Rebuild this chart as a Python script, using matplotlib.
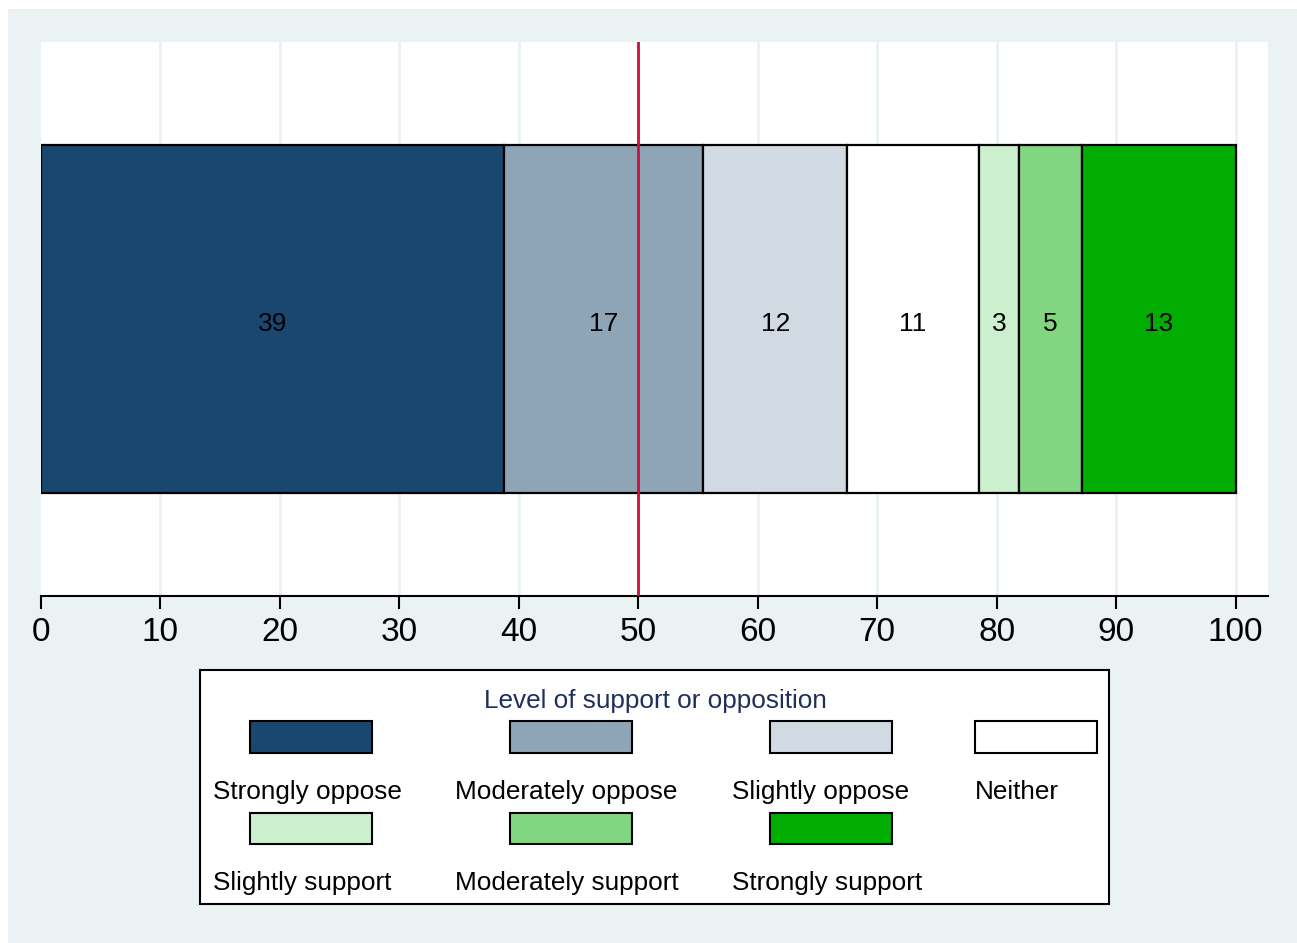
import matplotlib.pyplot as plt
from matplotlib.patches import Rectangle

plt.rcParams['font.family'] = ['Liberation Sans', 'DejaVu Sans']

# data
categories = ['Strongly oppose', 'Moderately oppose', 'Slightly oppose', 'Neither',
              'Slightly support', 'Moderately support', 'Strongly support']
shares = [38.76, 16.69, 12.05, 11.0, 3.37, 5.27, 12.86]
bar_labels = ['39', '17', '12', '11', '3', '5', '13']
colors = ['#1A476F', '#8EA4B7', '#D1D9E2', '#FFFFFF', '#CCEFCD', '#82D682', '#00AD00']
ticks = list(range(0, 101, 10))

W, H = 1297, 943
fig = plt.figure(figsize=(W / 100, H / 100), dpi=100, facecolor='white')

def fx(px):
    return px / W

def fy(py):
    return 1 - py / H

# outer light background
fig.patches.append(Rectangle((fx(8), 0), 1 - fx(8), fy(9), transform=fig.transFigure,
                             facecolor='#EAF2F3', edgecolor='none', zorder=-5))

ax = fig.add_axes([fx(40.7), fy(596), fx(1268) - fx(40.7), (596 - 42) / H])
ax.set_zorder(2)
ax.set_facecolor('white')
ax.set_xlim(0, 102.7)
ax.set_ylim(0, 1)

left = 0
for val, lab, col in zip(shares, bar_labels, colors):
    ax.barh(0.5, val, left=left, height=0.628, color=col, edgecolor='black',
            linewidth=1.6, zorder=3)
    ax.text(left + val / 2, 0.491, lab, ha='center', va='center', fontsize=19,
            color='black', zorder=4)
    left += val

for t in ticks[1:]:
    ax.axvline(t, color='#EAF2F3', linewidth=2, zorder=1)
ax.axvline(50, color='#C8103A', linewidth=2, zorder=5)

ax.set_xticks(ticks)
ax.set_xticklabels([str(t) for t in ticks], fontsize=24)
ax.tick_params(axis='x', length=9, width=1.5, pad=6)
ax.set_yticks([])
for s in ['top', 'right', 'left']:
    ax.spines[s].set_visible(False)
ax.spines['bottom'].set_linewidth(1.5)

# legend drawn by hand (Stata style: swatch above label)
fig.patches.append(Rectangle((fx(200), fy(904)), fx(1109) - fx(200), (904 - 670) / H,
                             transform=fig.transFigure, facecolor='white',
                             edgecolor='black', linewidth=1.5, zorder=1))
fig.text(fx(655), fy(701), 'Level of support or opposition', ha='center', va='center',
         fontsize=18.8, color='#1F2F5C')

sw_x = [250, 509.5, 769.5, 975]
lab_x = [213, 455, 732, 975]
sw_y = [(721, 753), (812.5, 844)]
lab_y = [792, 883]
for i, (cat, col) in enumerate(zip(categories, colors)):
    r, c = divmod(i, 4)
    y0, y1 = sw_y[r]
    fig.patches.append(Rectangle((fx(sw_x[c]), fy(y1)), 122 / W, (y1 - y0) / H,
                                 transform=fig.transFigure, facecolor=col,
                                 edgecolor='black', linewidth=1.5, zorder=2))
    fig.text(fx(lab_x[c]), fy(lab_y[r]), cat, ha='left', va='center', fontsize=18.8,
             color='black', zorder=3)

fig.savefig('out.png', dpi=100, facecolor='white')
